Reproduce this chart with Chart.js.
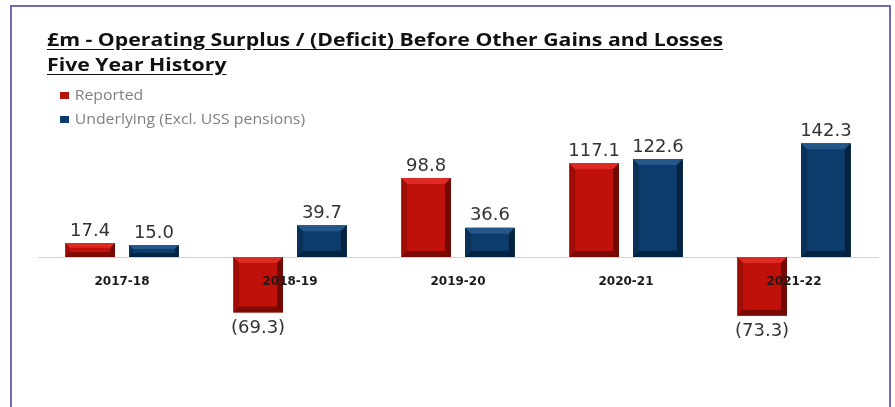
<!DOCTYPE html>
<html lang="en">
<head>
  <meta charset="UTF-8">
  <title>Operating Surplus / (Deficit) - Five Year History</title>
  <script src="https://cdn.jsdelivr.net/npm/chart.js@4"></script>
  <style>
    html, body {
      margin: 0;
      padding: 0;
      background: #fff;
      width: 895px;
      height: 407px;
      overflow: hidden;
    }

    .frame {
      position: absolute;
      left: 10px;
      top: 5px;
      width: 881px;
      height: 420px;
      border: 2px solid #7468b4;
      box-sizing: border-box;
    }

    .title {
      position: absolute;
      left: 47px;
      top: 27px;
      font-family: "Open Sans", sans-serif;
      font-weight: bold;
      font-size: 18px;
      line-height: 25px;
      color: #111;
      text-decoration: underline;
      text-underline-offset: 3px;
      white-space: nowrap;
      transform: scaleX(1.18);
      transform-origin: left top;
    }

    .legend {
      position: absolute;
      left: 60px;
      top: 85px;
      font-family: "Open Sans", sans-serif;
      font-size: 14px;
      color: #808080;
      white-space: nowrap;
      transform: scaleX(1.13);
      transform-origin: left top;
    }

    .legend div {
      height: 24px;
      line-height: 20px;
    }

    .legend span {
      display: inline-block;
      width: 8px;
      height: 7px;
      margin-right: 5px;
      vertical-align: 1px;
    }

    #chart {
      position: absolute;
      left: 0;
      top: 0;
    }
  </style>
</head>
<body>
  <div class="frame"></div>
  <canvas id="chart" width="895" height="407"></canvas>
  <div class="title">£m - Operating Surplus / (Deficit) Before Other Gains and Losses<br>Five Year History</div>
  <div class="legend">
    <div><span style="background:#b5120c"></span>Reported</div>
    <div><span style="background:#0b3c6c"></span>Underlying (Excl. USS pensions)</div>
  </div>

  <script>
    const anos = ['2017-18', '2018-19', '2019-20', '2020-21', '2021-22'];
    const reportado = [17.4, -69.3, 98.8, 117.1, -73.3];
    const subjacente = [15.0, 39.7, 36.6, 122.6, 142.3];

    // cores: base, claro, escuro
    const vermelho = ['#bf1109', '#dd2a22', '#5e0703'];
    const azul = ['#0b3c6c', '#24578a', '#021a33'];

    function formata(v) {
      return v < 0 ? '(' + Math.abs(v).toFixed(1) + ')' : v.toFixed(1);
    }

    // efeito de bisel nas barras
    const bisel = {
      id: 'bisel',
      afterDatasetsDraw(chart) {
        const ctx = chart.ctx;
        chart.data.datasets.forEach((ds, i) => {
          const cores = ds.cores;
          chart.getDatasetMeta(i).data.forEach(bar => {
            const l = bar.x - bar.width / 2, r = bar.x + bar.width / 2;
            const t = Math.min(bar.y, bar.base), b = Math.max(bar.y, bar.base);
            const e = Math.min(6, (b - t) / 3);
            ctx.save();
            // topo
            ctx.fillStyle = cores[1];
            ctx.beginPath();
            ctx.moveTo(l, t); ctx.lineTo(r, t); ctx.lineTo(r - e, t + e); ctx.lineTo(l + e, t + e);
            ctx.fill();
            // direita
            ctx.fillStyle = cores[2];
            ctx.globalAlpha = 0.8;
            ctx.beginPath();
            ctx.moveTo(r, t); ctx.lineTo(r, b); ctx.lineTo(r - e, b - e); ctx.lineTo(r - e, t + e);
            ctx.fill();
            // baixo
            ctx.globalAlpha = 0.7;
            ctx.beginPath();
            ctx.moveTo(l, b); ctx.lineTo(r, b); ctx.lineTo(r - e, b - e); ctx.lineTo(l + e, b - e);
            ctx.fill();
            // esquerda
            ctx.globalAlpha = 0.35;
            ctx.beginPath();
            ctx.moveTo(l, t); ctx.lineTo(l, b); ctx.lineTo(l + e, b - e); ctx.lineTo(l + e, t + e);
            ctx.fill();
            ctx.restore();
          });
        });
      }
    };

    // rótulos de valor
    const rotulos = {
      id: 'rotulos',
      afterDatasetsDraw(chart) {
        const ctx = chart.ctx;
        ctx.save();
        ctx.font = '18px "DejaVu Sans"';
        ctx.fillStyle = '#333';
        ctx.textAlign = 'center';
        chart.data.datasets.forEach((ds, i) => {
          chart.getDatasetMeta(i).data.forEach((bar, j) => {
            const v = ds.data[j];
            if (v >= 0) {
              ctx.textBaseline = 'bottom';
              ctx.fillText(formata(v), bar.x, bar.y - 3);
            } else {
              ctx.textBaseline = 'top';
              ctx.fillText(formata(v), bar.x, bar.y + 7);
            }
          });
        });
        ctx.restore();
      }
    };

    new Chart(document.getElementById('chart'), {
      type: 'bar',
      data: {
        labels: anos,
        datasets: [
          { label: 'Reported', data: reportado, backgroundColor: vermelho[0], cores: vermelho },
          { label: 'Underlying (Excl. USS pensions)', data: subjacente, backgroundColor: azul[0], cores: azul }
        ]
      },
      options: {
        responsive: false,
        animation: false,
        categoryPercentage: 0.76,
        barPercentage: 0.78,
        layout: { padding: { top: 113, bottom: 46, left: 38, right: 17 } },
        plugins: {
          legend: { display: false },
          tooltip: { enabled: false }
        },
        scales: {
          x: {
            position: { y: 0 },
            grid: { display: false },
            border: { display: true, color: '#d4d4d4', width: 1 },
            ticks: {
              z: 1,
              padding: 10,
              color: '#1a1a1a',
              font: { family: 'DejaVu Sans', size: 12, weight: 'bold' }
            }
          },
          y: {
            display: false,
            min: -130,
            max: 180
          }
        }
      },
      plugins: [bisel, rotulos]
    });
  </script>
</body>
</html>
